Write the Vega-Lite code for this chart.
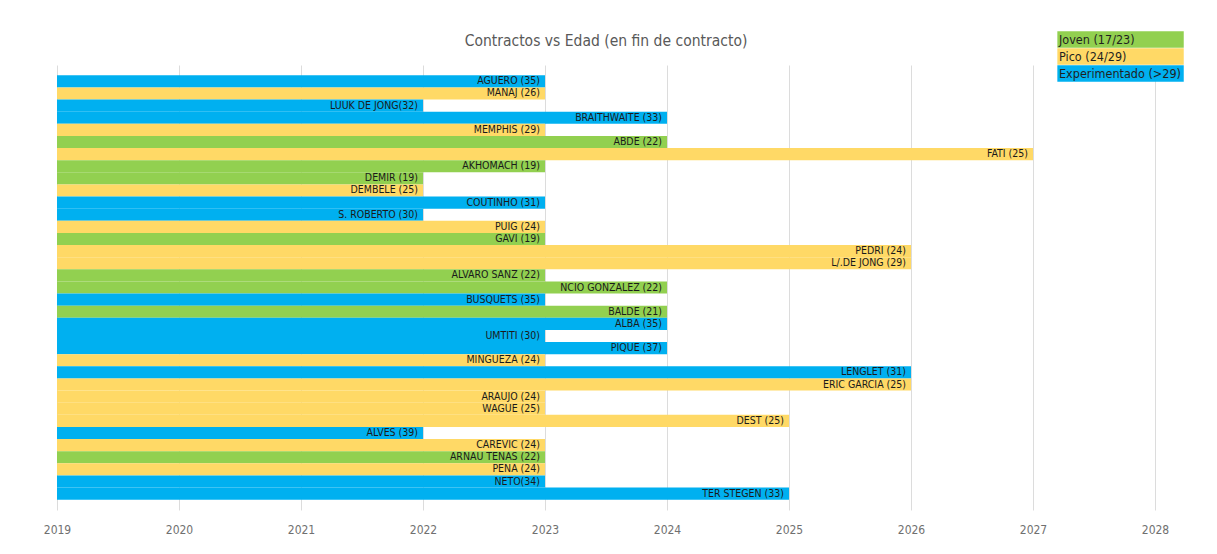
{
  "$schema": "https://vega.github.io/schema/vega-lite/v6.json",
  "autosize": "none",
  "width": 1098,
  "height": 445,
  "padding": {"left": 57, "top": 65, "right": 62, "bottom": 44},
  "background": "white",
  "title": {
    "text": "Contractos vs Edad (en fin de contracto)",
    "font": "DejaVu Sans Condensed, sans-serif",
    "fontSize": 15.5,
    "fontWeight": "normal",
    "color": "#595959",
    "anchor": "middle",
    "baseline": "bottom",
    "offset": -33
  },
  "data": {
    "values": [
      {"label": "AGUERO (35)", "end": 2023, "group": "Experimentado (>29)"},
      {"label": "MANAJ (26)", "end": 2023, "group": "Pico (24/29)"},
      {"label": "LUUK DE JONG(32)", "end": 2022, "group": "Experimentado (>29)"},
      {"label": "BRAITHWAITE (33)", "end": 2024, "group": "Experimentado (>29)"},
      {"label": "MEMPHIS (29)", "end": 2023, "group": "Pico (24/29)"},
      {"label": "ABDE (22)", "end": 2024, "group": "Joven (17/23)"},
      {"label": "FATI (25)", "end": 2027, "group": "Pico (24/29)"},
      {"label": "AKHOMACH (19)", "end": 2023, "group": "Joven (17/23)"},
      {"label": "DEMIR (19)", "end": 2022, "group": "Joven (17/23)"},
      {"label": "DEMBELE (25)", "end": 2022, "group": "Pico (24/29)"},
      {"label": "COUTINHO (31)", "end": 2023, "group": "Experimentado (>29)"},
      {"label": "S. ROBERTO (30)", "end": 2022, "group": "Experimentado (>29)"},
      {"label": "PUIG (24)", "end": 2023, "group": "Pico (24/29)"},
      {"label": "GAVI (19)", "end": 2023, "group": "Joven (17/23)"},
      {"label": "PEDRI (24)", "end": 2026, "group": "Pico (24/29)"},
      {"label": "L/.DE JONG (29)", "end": 2026, "group": "Pico (24/29)"},
      {"label": "ALVARO SANZ (22)", "end": 2023, "group": "Joven (17/23)"},
      {"label": "NCIO GONZALEZ (22)", "end": 2024, "group": "Joven (17/23)"},
      {"label": "BUSQUETS (35)", "end": 2023, "group": "Experimentado (>29)"},
      {"label": "BALDE (21)", "end": 2024, "group": "Joven (17/23)"},
      {"label": "ALBA (35)", "end": 2024, "group": "Experimentado (>29)"},
      {"label": "UMTITI (30)", "end": 2023, "group": "Experimentado (>29)"},
      {"label": "PIQUE (37)", "end": 2024, "group": "Experimentado (>29)"},
      {"label": "MINGUEZA (24)", "end": 2023, "group": "Pico (24/29)"},
      {"label": "LENGLET (31)", "end": 2026, "group": "Experimentado (>29)"},
      {"label": "ERIC GARCIA (25)", "end": 2026, "group": "Pico (24/29)"},
      {"label": "ARAUJO (24)", "end": 2023, "group": "Pico (24/29)"},
      {"label": "WAGUE (25)", "end": 2023, "group": "Pico (24/29)"},
      {"label": "DEST (25)", "end": 2025, "group": "Pico (24/29)"},
      {"label": "ALVES (39)", "end": 2022, "group": "Experimentado (>29)"},
      {"label": "CAREVIC (24)", "end": 2023, "group": "Pico (24/29)"},
      {"label": "ARNAU TENAS (22)", "end": 2023, "group": "Joven (17/23)"},
      {"label": "PENA (24)", "end": 2023, "group": "Pico (24/29)"},
      {"label": "NETO(34)", "end": 2023, "group": "Experimentado (>29)"},
      {"label": "TER STEGEN  (33)", "end": 2025, "group": "Experimentado (>29)"}
    ]
  },
  "encoding": {
    "y": {
      "field": "label",
      "type": "nominal",
      "sort": null,
      "axis": null,
      "scale": {"paddingInner": 0, "paddingOuter": 0.85}
    }
  },
  "layer": [
    {
      "mark": {"type": "bar", "strokeWidth": 0},
      "encoding": {
        "x": {
          "field": "end",
          "type": "quantitative",
          "scale": {"domain": [2019, 2028], "zero": false, "nice": false},
          "axis": {
            "title": null,
            "values": [2019, 2020, 2021, 2022, 2023, 2024, 2025, 2026, 2027, 2028],
            "format": "d",
            "domain": false,
            "ticks": false,
            "grid": true,
            "gridColor": "#dcdcdc",
            "gridWidth": 1,
            "labelFont": "DejaVu Sans Condensed, sans-serif",
            "labelFontSize": 12,
            "labelColor": "#707070",
            "labelPadding": 14,
            "labelFlush": false
          }
        },
        "x2": {"datum": 2019},
        "color": {
          "field": "group",
          "type": "nominal",
          "scale": {
            "domain": ["Joven (17/23)", "Pico (24/29)", "Experimentado (>29)"],
            "range": ["#92D050", "#FFD966", "#00B0F0"]
          },
          "legend": {
            "title": null,
            "orient": "none",
            "legendX": 1000,
            "legendY": -34,
            "symbolType": "M-1,-1H14.5V1H-1Z",
            "symbolSize": 266,
            "symbolStrokeWidth": 0,
            "symbolOpacity": 1,
            "symbolOffset": 0,
            "rowPadding": 0,
            "labelOffset": -15,
            "labelFont": "DejaVu Sans Condensed, sans-serif",
            "labelFontSize": 12.5,
            "labelColor": "#1f1f1f",
            "padding": 0
          }
        }
      }
    },
    {
      "mark": {
        "type": "text",
        "align": "right",
        "baseline": "middle",
        "dx": -5,
        "font": "DejaVu Sans Condensed, sans-serif",
        "fontSize": 10.5,
        "fontWeight": "normal",
        "color": "#1a1a1a"
      },
      "encoding": {
        "x": {"field": "end", "type": "quantitative"},
        "text": {"field": "label"}
      }
    }
  ],
  "config": {
    "view": {"stroke": null}
  }
}
